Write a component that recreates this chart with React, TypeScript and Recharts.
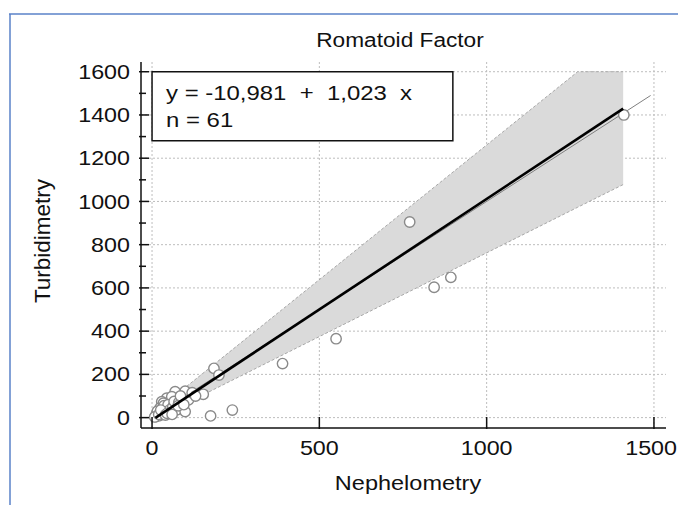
import React from 'react';
import {
  ComposedChart,
  XAxis,
  YAxis,
  Area,
  Line,
  Scatter,
  ReferenceLine,
  ReferenceArea,
  Customized,
} from 'recharts';

const FONT = '"Liberation Sans", Arial, Helvetica, sans-serif';

const TITLE = 'Romatoid Factor';
const X_LABEL = 'Nephelometry';
const Y_LABEL = 'Turbidimetry';
const EQ_LINE = 'y = -10,981  +  1,023  x';
const N_LINE = 'n = 61';

const X_TICKS = [0, 500, 1000, 1500];
const Y_TICKS = [0, 100, 200, 300, 400, 500, 600, 700, 800, 900, 1000, 1100, 1200, 1300, 1400, 1500, 1600];
const GRID_X = [0, 500, 1000, 1500];
const GRID_Y = [0, 200, 400, 600, 800, 1000, 1200, 1400, 1600];

// observed samples
const NEPH = [1410, 770, 843, 893, 550, 390, 240, 175, 185, 200, 153, 99, 69, 44, 59, 29, 89, 74, 99, 24, 39, 18, 54, 109, 34, 14, 24, 10, 12, 16, 20, 28, 32, 36, 48, 52, 62, 66, 80, 85, 120, 8, 20, 26, 40, 45, 60, 78, 95, 130];
const TURB = [1400, 905, 603, 649, 365, 250, 35, 8, 228, 197, 108, 122, 120, 90, 97, 74, 43, 36, 28, 45, 28, 22, 22, 82, 67, 20, 12, 5, 10, 30, 8, 18, 40, 55, 60, 35, 50, 75, 70, 100, 115, 3, 15, 35, 12, 20, 15, 55, 60, 100];

// regression line and identity line endpoints
const REG_X = [10, 1408];
const REG_Y = [-1, 1429];
const ID_X = [0, 1490];
const ID_Y = [0, 1490];

// confidence band
const BAND_X = [10, 1272, 1408];
const BAND_LO = [-5, 973, 1078];
const BAND_HI = [28, 1600, 1600];

// equation box corners (data units)
const BOX_X = [0, 899];
const BOX_Y = [1281, 1600];

const scatterData = NEPH.map((x, i) => ({ x, y: TURB[i] }));
const regData = REG_X.map((x, i) => ({ x, y: REG_Y[i] }));
const idData = ID_X.map((x, i) => ({ x, y: ID_Y[i] }));
const bandData = BAND_X.map((x, i) => ({ x, lo: BAND_LO[i], hi: BAND_HI[i] }));

const PLOT_LEFT = 141;
const PLOT_BOTTOM = 428;
const CHART_W = 678;

const T = (props: any) => {
  const { x, y, anchor = 'start', size = 21, sx = 1.1, rotate = 0, children } = props;
  const tr = `translate(${x},${y})` + (rotate ? ` rotate(${rotate})` : '') + ` scale(${sx},1)`;
  return (
    <text
      transform={tr}
      x={0}
      y={0}
      textAnchor={anchor}
      dominantBaseline="central"
      fontSize={size}
      fontFamily={FONT}
      fill="#111"
      style={{ whiteSpace: 'pre' }}
    >
      {children}
    </text>
  );
};

const YTick = (props: any) => {
  const { y, payload } = props;
  const v = payload.value;
  const major = v % 200 === 0;
  return (
    <g>
      <line
        x1={PLOT_LEFT - 2}
        x2={PLOT_LEFT + (major ? 8 : 5)}
        y1={y}
        y2={y}
        stroke="#111"
        strokeWidth={1.5}
      />
      {major && (
        <T x={130} y={y} anchor="end" size={21} sx={1.11}>
          {v}
        </T>
      )}
    </g>
  );
};

const XTick = (props: any) => {
  const { x, payload } = props;
  const label = String(payload.value);
  const half = (label.length * 0.556 * 21 * 1.11) / 2;
  const lx = Math.min(x, CHART_W - 1 - half);
  return (
    <g>
      <line x1={x} x2={x} y1={PLOT_BOTTOM + 1} y2={PLOT_BOTTOM - 11} stroke="#111" strokeWidth={1.5} />
      <T x={lx} y={448} anchor="middle" size={21} sx={1.11}>
        {label}
      </T>
    </g>
  );
};

const Dot = (props: any) => {
  const { cx, cy } = props;
  if (cx == null || cy == null) return null;
  return <circle cx={cx} cy={cy} r={5.2} fill="#fff" stroke="#8a8a8a" strokeWidth={1.4} />;
};

const BoxLabel = (props: any) => {
  const vb = props.viewBox || {};
  const x0 = vb.x ?? 0;
  const y0 = vb.y ?? 0;
  return (
    <g>
      <T x={x0 + 14} y={y0 + 21} size={21} sx={1.14}>
        {EQ_LINE}
      </T>
      <T x={x0 + 14} y={y0 + 48} size={21} sx={1.14}>
        {N_LINE}
      </T>
    </g>
  );
};

const Decor = () => (
  <g>
    <line x1={9} x2={678} y1={14} y2={14} stroke="#5a82c8" strokeWidth={1.5} />
    <line x1={10} x2={10} y1={14} y2={505} stroke="#5a82c8" strokeWidth={1.5} />
    <T x={400} y={40} anchor="middle" size={21} sx={1.08}>
      {TITLE}
    </T>
    <T x={408} y={483} anchor="middle" size={21} sx={1.12}>
      {X_LABEL}
    </T>
    <T x={42} y={241} anchor="middle" size={22.5} sx={1} rotate={-90}>
      {Y_LABEL}
    </T>
  </g>
);

export default function App() {
  return (
    <div style={{ position: 'absolute', left: 0, top: 0, width: 678, height: 505, background: '#fff' }}>
      <ComposedChart width={678} height={505} margin={{ top: 62, right: 12, bottom: 0, left: 0 }}>
        <XAxis
          type="number"
          dataKey="x"
          domain={[-33, 1536]}
          ticks={X_TICKS}
          interval={0}
          height={77}
          tickLine={false}
          tick={<XTick />}
          axisLine={{ stroke: '#111', strokeWidth: 1.5 }}
          allowDataOverflow
        />
        <YAxis
          type="number"
          domain={[-48, 1645]}
          ticks={Y_TICKS}
          interval={0}
          width={141}
          tickLine={false}
          tick={<YTick />}
          axisLine={{ stroke: '#111', strokeWidth: 1.5 }}
          allowDataOverflow
        />
        {GRID_X.map((v) => (
          <ReferenceLine key={'gx' + v} x={v} stroke="#bdbdbd" strokeDasharray="2 2" strokeWidth={1} zIndex={-50} />
        ))}
        {GRID_Y.map((v) => (
          <ReferenceLine key={'gy' + v} y={v} stroke="#bdbdbd" strokeDasharray="2 2" strokeWidth={1} zIndex={-50} />
        ))}
        <Area
          data={bandData}
          dataKey={(d: any) => [d.lo, d.hi]}
          type="linear"
          fill="#dadada"
          fillOpacity={1}
          stroke="#a8a8a8"
          strokeDasharray="3 2"
          strokeWidth={1}
          isAnimationActive={false}
          dot={false}
          activeDot={false}
          zIndex={100}
        />
        <Line
          data={idData}
          dataKey="y"
          type="linear"
          stroke="#808080"
          strokeWidth={1}
          dot={false}
          activeDot={false}
          isAnimationActive={false}
          zIndex={300}
        />
        <Scatter data={scatterData} dataKey="y" shape={<Dot />} isAnimationActive={false} zIndex={400} />
        <Line
          data={regData}
          dataKey="y"
          type="linear"
          stroke="#000"
          strokeWidth={2.6}
          dot={false}
          activeDot={false}
          isAnimationActive={false}
          zIndex={500}
        />
        <ReferenceArea
          x1={BOX_X[0]}
          x2={BOX_X[1]}
          y1={BOX_Y[0]}
          y2={BOX_Y[1]}
          fill="#fff"
          fillOpacity={1}
          stroke="#111"
          strokeWidth={1.5}
          label={<BoxLabel />}
          zIndex={1000}
        />
        <Customized component={Decor} />
      </ComposedChart>
    </div>
  );
}
